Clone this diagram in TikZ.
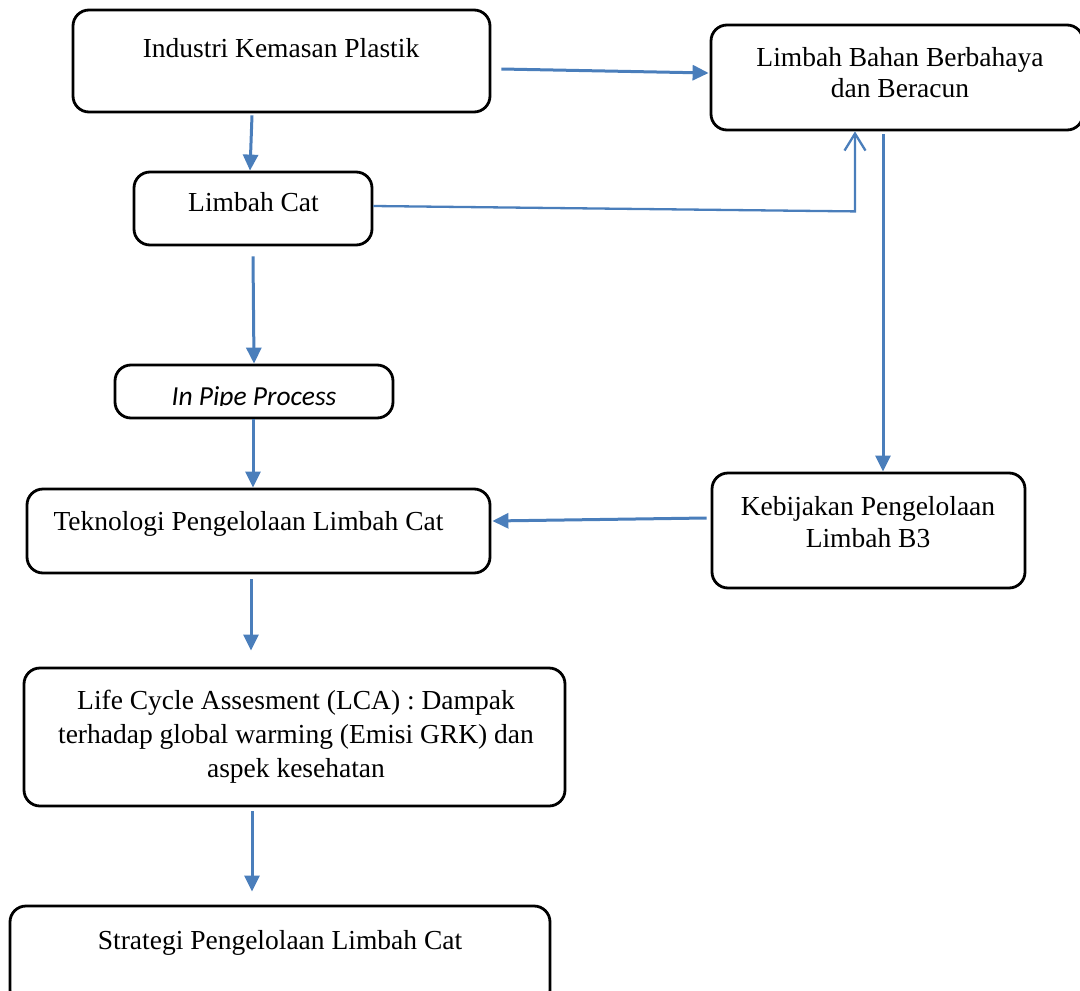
\documentclass[tikz,border=0pt]{standalone}
\usepackage{fontspec}
\setmainfont{Liberation Serif}
\newfontfamily\calfont{Carlito}
\usetikzlibrary{arrows.meta,calc}
\definecolor{arrowblue}{HTML}{4A7EBB}
\tikzset{
  box/.style={draw=black, line width=2.8pt, rounded corners=16pt, inner sep=0pt},
  lbl/.style={inner sep=0pt, anchor=base, align=center, font=\fontsize{27.5}{33}\selectfont},
  conn/.style={draw=arrowblue, line width=3pt, -{Triangle[length=16pt,width=15pt]}},
  thinconn/.style={draw=arrowblue, line width=2.3pt, -{Straight Barb[length=17pt,width=21pt,line width=2.3pt]}}
}
\begin{document}
\begin{tikzpicture}[x=1pt,y=-1pt]
\useasboundingbox (0,0) rectangle (1080,991);
% boxes
\node[box, minimum width=417pt, minimum height=102pt] (i1) at (281.5,61) {};
\node[box, minimum width=372pt, minimum height=105pt] (b3) at (897,77.5) {};
\node[box, minimum width=238pt, minimum height=73pt] (lc) at (253,208.5) {};
\node[box, minimum width=278pt, minimum height=53pt] (ip) at (254,391.5) {};
\node[box, minimum width=463pt, minimum height=84pt] (tk) at (258.5,531) {};
\node[box, minimum width=313pt, minimum height=115pt] (kb) at (868.5,530.5) {};
\node[box, minimum width=541pt, minimum height=138pt] (lca) at (294.5,737) {};
\node[box, minimum width=540pt, minimum height=100pt] (st) at (280,956) {};
% texts (multi-line nodes: base = last line)
\node[lbl] (ti1) at (281,57) {Industri Kemasan Plastik};
\node[lbl] (tb3) at (900,97) {Limbah Bahan Berbahaya\\[-2pt]dan Beracun};
\node[lbl] (tlc) at (253.5,211) {Limbah Cat};
\begin{scope}
\clip (115,360) rectangle (393,405);
\node[lbl, font=\calfont\itshape\fontsize{27.5}{33}\selectfont] (tip) at (254,405) {In Pipe Process};
\end{scope}
\node[lbl] (ttk) at (248.5,530) {Teknologi Pengelolaan Limbah Cat};
\node[lbl] (tkb) at (868,547) {Kebijakan Pengelolaan\\[-1pt]Limbah B3};
\node[lbl] (tlca) at (296,777) {Life Cycle Assesment (LCA) : Dampak\\[1pt]terhadap global warming (Emisi GRK) dan\\[1pt]aspek kesehatan};
\node[lbl] (tst) at (280,949) {Strategi Pengelolaan Limbah Cat};
% connectors
\draw[conn] ($(i1.east)+(10,8)$) -- ($(b3.west)+(-1,-4.5)$);
\draw[conn] ($(i1.south)+(-29.5,2)$) -- ($(lc.north)+(-3,0)$);
\draw[thinconn] ($(lc.east)+(0,-2.5)$) -- ($(b3.south)+(-42,80)$) -- ($(b3.south)+(-42,0)$);
\draw[conn] ($(b3.south)+(-14,3)$) -- ($(kb.north)+(14.5,0)$);
\draw[conn] ($(lc.south)+(0,10)$) -- (ip.north);
\draw[conn] ($(ip.south)+(-1,0)$) -- ($(tk.north)+(-5.5,0)$);
\draw[conn] ($(kb.west)+(-4,-12.5)$) -- ($(tk.east)+(1,-10)$);
\draw[conn] ($(tk.south)+(-7.5,5)$) -- ($(lca.north)+(-43.5,-16)$);
\draw[conn] ($(lca.south)+(-42.5,4)$) -- ($(st.north)+(-28,-13)$);
\end{tikzpicture}
\end{document}
